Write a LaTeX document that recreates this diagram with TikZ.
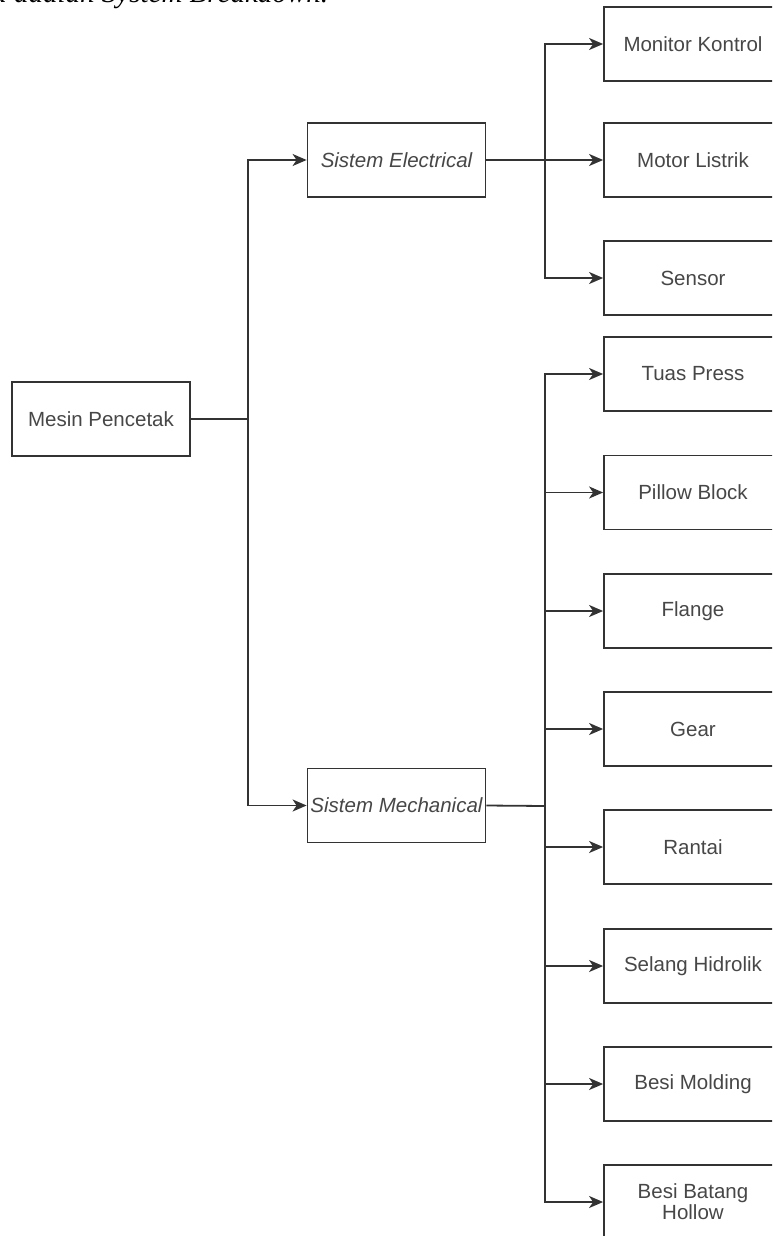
\documentclass[tikz,border=0pt]{standalone}
\usepackage{fontspec}
\setmainfont{Liberation Sans}
\newfontfamily\captionserif{Liberation Serif}
\usepackage{tikz}
\usetikzlibrary{arrows.meta}

\begin{document}
\begin{tikzpicture}[x=0.5pt,y=-0.5pt,
    part/.style={draw=black!80,line width=0.9pt,fill=white,text=black!72,
        minimum width=89pt,minimum height=37pt,inner xsep=0pt,align=center,
        font=\fontsize{10.25}{10.5}\selectfont},
    link/.style={draw=black!80,line width=0.9pt},
    arr/.style={link,-{Stealth[length=7pt,width=6pt,inset=2pt]}}]

    % Page frame (reference size 772 x 1236 px)
    \useasboundingbox (0,0) rectangle (772,1236);
    \clip (0,0) rectangle (772,1236);

    % Caption line cut at the top
    \node[anchor=base west,inner sep=0pt,font=\captionserif\fontsize{14.5}{16}\selectfont\itshape,text=black]
        (caption) at (-8,3) {a adalah System Breakdown.};

    % Root
    \node[part] (mesin) at (101,419) {Mesin Pencetak};

    % Subsystems
    \node[part,font=\fontsize{10.25}{10.5}\selectfont\itshape] (elec) at (396.5,160) {Sistem Electrical};
    \node[part,font=\fontsize{10.25}{10.5}\selectfont\itshape] (mech) at (396.5,805.5) {Sistem Mechanical};

    % Electrical parts
    \node[part] (monitor) at (693,44) {Monitor Kontrol};
    \node[part] (motor) at (693,160) {Motor Listrik};
    \node[part] (sensor) at (693,278) {Sensor};

    % Mechanical parts
    \node[part] (tuas) at (693,374) {Tuas Press};
    \node[part] (pillow) at (693,492.5) {Pillow Block};
    \node[part] (flange) at (693,611) {Flange};
    \node[part] (gear) at (693,729) {Gear};
    \node[part] (rantai) at (693,847) {Rantai};
    \node[part] (selang) at (693,966) {Selang Hidrolik};
    \node[part] (molding) at (693,1084) {Besi Molding};
    \node[part] (hollow) at (693,1202) {Besi Batang\\Hollow};

    % Root to subsystems
    \coordinate (splitA) at (248,419);
    \draw[link] (mesin.east) -- (splitA);
    \draw[arr] (splitA) |- (elec.west);
    \draw[arr] (splitA) |- (mech.west);

    % Electrical branch
    \coordinate (splitB) at (545,160);
    \draw[arr] (elec.east) -- (motor.west);
    \draw[arr] (splitB) |- (monitor.west);
    \draw[arr] (splitB) |- (sensor.west);

    % Mechanical branch
    \coordinate (splitC) at (545,806);
    \draw[link] (mech.east) -- (splitC);
    \foreach \p in {tuas,pillow,flange,gear,rantai,selang,molding,hollow}
        \draw[arr] (splitC) |- (\p.west);

\end{tikzpicture}
\end{document}
